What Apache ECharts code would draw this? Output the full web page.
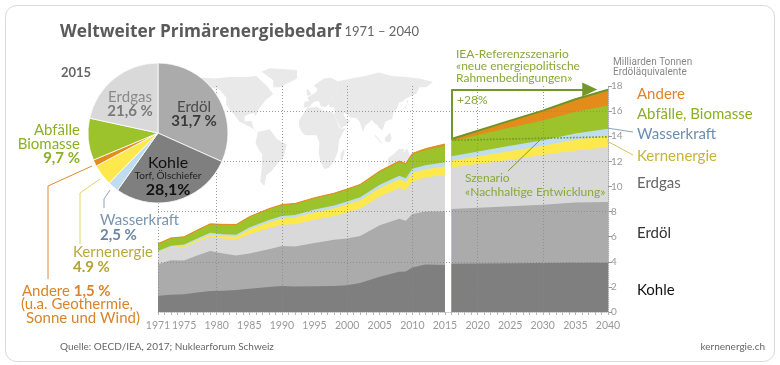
<!DOCTYPE html>
<html><head><meta charset="utf-8">
<script src="https://cdn.jsdelivr.net/npm/echarts@6/dist/echarts.min.js"></script>
<style>html,body{margin:0;padding:0;background:#fff}#c{width:780px;height:365px}</style>
</head><body><div id="c"></div>
<script>
// ---------- DATA ----------
const histYears = [1971,1973,1975,1977,1979,1981,1983,1985,1988,1990,1992,1995,1998,2000,2002,2005,2008,2009,2010,2012,2015];
const kohleHist  = [1.30,1.38,1.42,1.55,1.68,1.70,1.75,1.85,2.00,2.07,2.03,2.05,2.08,2.13,2.30,2.80,3.20,3.22,3.55,3.78,3.75];
const erdoelHist = [2.50,2.74,2.68,2.95,3.17,2.95,2.75,2.80,3.00,3.18,3.19,3.45,3.67,3.72,3.75,4.10,4.22,4.05,4.25,4.22,4.27];
const erdgasHist = [0.92,1.00,1.05,1.10,1.15,1.20,1.25,1.55,1.70,1.70,1.76,1.85,1.90,2.10,2.20,2.30,2.45,2.42,2.60,2.72,2.90];
const kernHist   = [0.03,0.05,0.10,0.13,0.16,0.20,0.25,0.37,0.45,0.50,0.55,0.60,0.62,0.63,0.66,0.68,0.70,0.68,0.70,0.65,0.66];
const wasserHist = [0.10,0.11,0.12,0.13,0.15,0.15,0.16,0.17,0.18,0.19,0.19,0.21,0.22,0.23,0.23,0.26,0.28,0.28,0.30,0.32,0.34];
const bioHist    = [0.57,0.60,0.60,0.64,0.68,0.75,0.78,0.82,0.86,0.88,0.88,0.90,0.92,0.94,0.97,1.03,1.10,1.10,1.15,1.22,1.33];
const andereHist = [0.02,0.02,0.02,0.02,0.03,0.03,0.03,0.03,0.04,0.04,0.04,0.04,0.05,0.05,0.05,0.06,0.07,0.07,0.08,0.10,0.13];

const projYears  = [2016,2025,2030,2035,2040];
const kohleProj  = [3.85,3.88,3.90,3.92,3.93];
const erdoelProj = [4.35,4.55,4.65,4.80,4.84];
const erdgasProj = [3.30,3.70,3.95,4.15,4.35];
const kernProj   = [0.55,0.70,0.75,0.85,0.93];
const wasserProj = [0.35,0.41,0.43,0.50,0.55];
const bioProj    = [1.20,1.45,1.57,1.72,1.85];
const andereProj = [0.18,0.55,0.79,1.00,1.25];

const sdsLine = [[2016,13.68],[2040,13.95]];   // Szenario «Nachhaltige Entwicklung»
const arrowLevel = 17.73;

const pieNames  = ['Erdöl','Kohle','Wasserkraft','Kernenergie','Andere','Abfälle, Biomasse','Erdgas'];
const pieShares = [31.7, 28.1, 2.5, 4.9, 1.5, 9.7, 21.6];

const xLabelYears = [1971,1975,1980,1985,1990,1995,2000,2005,2010,2015,2020,2025,2030,2035,2040];
const xGridYears  = [1971,1980,1990,2000,2010,2020,2030];

// ---------- STYLE ----------
const C = {kohle:'#7f7f7f', erdoel:'#ababab', erdgas:'#d9d9d9', kern:'#fde84e', wasser:'#c0dcf1', bio:'#9cc22c', andere:'#e38c1c'};
const pieColors = [C.erdoel, C.kohle, C.wasser, C.kern, C.andere, C.bio, C.erdgas];
const F = 'Lato, "Noto Sans", Arial, sans-serif';

const layers = [
  ['Kohle', kohleHist, kohleProj, C.kohle],
  ['Erdöl', erdoelHist, erdoelProj, C.erdoel],
  ['Erdgas', erdgasHist, erdgasProj, C.erdgas],
  ['Kernenergie', kernHist, kernProj, C.kern],
  ['Wasserkraft', wasserHist, wasserProj, C.wasser],
  ['Abfälle, Biomasse', bioHist, bioProj, C.bio],
  ['Andere', andereHist, andereProj, C.andere]
];

// cumulative table (layer tops), built from the arrays above
function cumulate(idx) {
  const n = layers[0][idx].length;
  const acc = new Array(n).fill(0);
  return layers.map(l => l[idx].map((v,i) => (acc[i] = +(acc[i] + v).toFixed(4))));
}
const histCum = cumulate(1);
const projCum = cumulate(2);
const projTop0 = projCum[layers.length-1][0];

const series = [];
// draw from the top layer down, each area filled from 0 to its cumulative top
for (let k = layers.length - 1; k >= 0; k--) {
  const l = layers[k];
  const isTop = k === layers.length - 1;
  series.push({
    type:'line', name:l[0], xAxisIndex:0, yAxisIndex:0,
    data: histYears.map((y,i)=>[y, histCum[k][i]]),
    symbol:'none', silent:true, z:2,
    lineStyle: isTop ? {width:1, color:C.andere} : {width:0},
    areaStyle:{color:l[3], opacity:1, origin:'start'}
  });
  const ps = {
    type:'line', name:l[0]+' Prognose', xAxisIndex:0, yAxisIndex:0,
    data: projYears.map((y,i)=>[y, projCum[k][i]]),
    symbol:'none', silent:true, z:2,
    lineStyle: isTop ? {width:2, color:'#6f9324'} : {width:0},
    areaStyle:{color:l[3], opacity:1, origin:'start'}
  };
  if (k === 0) {
    ps.markLine = {
      silent:true, animation:false, symbol:['none','none'], label:{show:false}, z:4,
      data:[
        [{coord:[projYears[0], projTop0], lineStyle:{color:'#73972a', width:2, type:'solid'}},
         {coord:[projYears[0], arrowLevel], lineStyle:{color:'#73972a', width:2, type:'solid'}}],
        [{coord:[projYears[0], arrowLevel], lineStyle:{color:'#73972a', width:2, type:'solid'}},
         {coord:[2037.2, arrowLevel], symbol:'triangle', symbolSize:[14,15], lineStyle:{color:'#73972a', width:2, type:'solid'}}],
        [{coord:sdsLine[0], lineStyle:{color:'#6f9a22', width:1.6, type:'dotted'}},
         {coord:sdsLine[1], lineStyle:{color:'#6f9a22', width:1.6, type:'dotted'}}]
      ]
    };
  }
  series.push(ps);
}

series.push({
  type:'pie', center:[158,133], radius:70, startAngle:90, clockwise:true, silent:true, z:5,
  label:{show:false}, labelLine:{show:false},
  itemStyle:{borderColor:'#ffffff', borderWidth:0.8},
  data: pieNames.map((n,i)=>({name:n, value:pieShares[i], itemStyle:{color:pieColors[i]}}))
});

// ---------- GRAPHIC ----------
function T(x, y, text, size, color, st) {
  return {type:'text', x:x, y:y, z:100, silent:true,
    style:Object.assign({text:text, fontFamily:F, fontSize:size, fill:color, verticalAlign:'middle', align:'left'}, st||{})};
}
function PL(points, color) {
  return {type:'polyline', z:100, silent:true, shape:{points:points}, style:{stroke:color, lineWidth:1, fill:null}};
}
// decorative world map silhouette (lon/lat outlines)
const mapShapes = [
  [[-168,66],[-160,71],[-140,70],[-120,72],[-95,72],[-80,73],[-65,62],[-55,52],[-66,45],[-76,35],[-81,26],[-83,30],[-90,29],[-97,26],[-97,20],[-87,21],[-83,10],[-78,8],[-85,12],[-92,15],[-105,20],[-112,28],[-118,33],[-124,40],[-124,48],[-135,58],[-150,60],[-165,60]],
  [[-55,60],[-45,60],[-20,70],[-20,80],[-60,82],[-72,78],[-55,68]],
  [[-78,8],[-60,11],[-50,0],[-35,-7],[-40,-22],[-48,-28],[-58,-38],[-65,-42],[-68,-55],[-74,-50],[-72,-35],[-71,-18],[-76,-13],[-81,-5],[-79,2]],
  [[-10,36],[-9,43],[-2,44],[-5,48],[2,51],[8,54],[10,58],[5,62],[12,66],[20,70],[30,71],[40,67],[40,55],[30,46],[28,41],[22,37],[15,38],[12,44],[5,43],[-2,37]],
  [[-5,50],[1,51],[-2,56],[-5,58],[-6,55]],
  [[-17,15],[-17,21],[-10,30],[-5,36],[10,37],[20,32],[32,31],[35,28],[43,12],[51,12],[42,-1],[40,-15],[35,-25],[27,-34],[20,-35],[15,-27],[12,-17],[13,-5],[9,4],[-8,4],[-13,8]],
  [[44,-25],[47,-25],[50,-15],[49,-12],[44,-17]],
  [[27,41],[30,46],[40,55],[40,67],[60,70],[80,73],[100,77],[120,73],[140,72],[160,70],[180,66],[170,60],[160,60],[155,52],[140,47],[135,43],[130,42],[127,35],[122,31],[120,23],[110,20],[106,10],[100,13],[98,16],[94,18],[90,22],[80,15],[77,8],[72,20],[67,24],[57,25],[56,27],[50,30],[48,29],[52,23],[58,21],[53,16],[44,12],[43,15],[39,21],[35,28],[35,36],[28,37]],
  [[130,31],[135,34],[140,36],[142,40],[141,45],[144,44],[140,38],[136,35],[131,33]],
  [[95,5],[106,-6],[103,-5],[95,3]],
  [[109,1],[117,7],[119,0],[116,-4],[110,-3]],
  [[114,-22],[122,-18],[130,-12],[137,-12],[137,-16],[142,-11],[146,-19],[153,-25],[151,-34],[146,-39],[140,-38],[135,-35],[129,-32],[116,-35],[114,-30]]
];
const mapGraphics = mapShapes.map(poly => ({
  type:'polygon', z:-1, silent:true,
  shape:{points: poly.map(p => [195 + (p[0]+170)*0.68, 70 + (80-p[1])*0.86])},
  style:{fill:'#e9e9e9'}
}));

const green = '#89a83a', greenL = '#8bb023';
const graphics = [
  {type:'rect', z:-2, silent:true, shape:{x:5.5, y:5.5, width:769, height:356, r:11}, style:{fill:'#fff', stroke:'#dadada', lineWidth:1}},
  ...mapGraphics,
  {type:'text', x:60, y:32, z:100, silent:true, style:{text:'{a|Weltweiter Primärenergiebedarf}{b| 1971 – 2040}', verticalAlign:'middle',
    rich:{a:{fontFamily:'"Open Sans", Lato, sans-serif', fontSize:17.3, fontWeight:'bold', fill:'#5a5a5a'}, b:{fontFamily:F, fontSize:13, fill:'#666'}}}},
  T(61, 73, '2015', 13, '#666', {fontWeight:'bold'}),
  // pie labels
  T(130, 97, 'Erdgas', 15, '#8a8a8a', {align:'center'}),
  T(130, 111, '21,6 %', 15, '#7a7a7a', {align:'center', fontWeight:'bold'}),
  T(194, 107, 'Erdöl', 15, '#4a4a4a', {align:'center'}),
  T(194, 121, '31,7 %', 15, '#3a3a3a', {align:'center', fontWeight:'bold'}),
  T(168, 163, 'Kohle', 16, '#111', {align:'center'}),
  T(168, 176, 'Torf, Ölschiefer', 10, '#222', {align:'center'}),
  T(168, 190, '28,1%', 16, '#111', {align:'center', fontWeight:'bold'}),
  T(80, 130, 'Abfälle', 15, greenL, {align:'right'}),
  T(80, 144, 'Biomasse', 15, greenL, {align:'right'}),
  T(80, 158, '9,7 %', 15, greenL, {align:'right', fontWeight:'bold'}),
  T(100, 220, 'Wasserkraft', 15, '#7b94af'),
  T(100, 235, '2,5 %', 15, '#6a86a4', {fontWeight:'bold'}),
  T(73, 252, 'Kernenergie', 15, '#b9aa3a'),
  T(73, 267, '4.9 %', 15, '#b3a334', {fontWeight:'bold'}),
  {type:'text', x:22, y:291, z:100, silent:true, style:{text:'{a|Andere }{b|1,5 %}', verticalAlign:'middle',
    rich:{a:{fontFamily:F, fontSize:15, fill:'#d8842c'}, b:{fontFamily:F, fontSize:15, fontWeight:'bold', fill:'#d8842c'}}}},
  T(21, 304, '(u.a. Geothermie,', 15, '#d8842c'),
  T(26, 318, 'Sonne und Wind)', 15, '#d8842c'),
  PL([[92,166],[48,186],[48,279]], '#de8b34'),
  PL([[100,179],[80,193],[80,244]], '#e4d266'),
  PL([[110,190],[104,199],[104,208]], '#8ea3b8'),
  // right labels
  T(637, 94, 'Andere', 15, '#e0842a'),
  T(637, 114, 'Abfälle, Biomasse', 15, greenL),
  T(637, 134, 'Wasserkraft', 15, '#6e8eb0'),
  T(637, 156, 'Kernenergie', 15, '#c8b43a'),
  T(637, 183, 'Erdgas', 15, '#666'),
  T(637, 233, 'Erdöl', 15, '#333'),
  T(637, 290, 'Kohle', 15, '#111'),
  PL([[607,128],[633,132]], '#8ea3b8'),
  PL([[607,141],[633,155]], '#d6c660'),
  T(613, 62, 'Milliarden Tonnen', 10, '#888', {fontFamily:'"Liberation Sans Narrow", Roboto, sans-serif'}),
  T(613, 72, 'Erdöläquivalente', 10, '#888', {fontFamily:'"Liberation Sans Narrow", Roboto, sans-serif'}),
  // annotations
  T(456, 54, 'IEA-Referenzszenario', 12, green),
  T(456, 66, '«neue energiepolitische', 12, green),
  T(456, 78, 'Rahmenbedingungen»', 12, green),
  T(457, 100, '+28%', 12, green),
  T(465, 178, 'Szenario', 12, green),
  T(465, 192, '«Nachhaltige Entwicklung»', 12, green),
  PL([[508,171],[540,140]], '#7a9a30'),
  // footer
  T(60, 347, 'Quelle: OECD/IEA, 2017; Nuklearforum Schweiz', 10, '#666'),
  T(765, 347, 'kernenergie.ch', 10, '#666', {align:'right'})
];

const yearTicks = [];
for (let y = 1971; y <= 2040; y++) yearTicks.push(y);

const gridLineStyle = {color:'#8a8a8a', type:[1,2], width:1, opacity:0.85};

const option = {
  animation:false,
  backgroundColor:'#fff',
  grid:{left:158, right:172, top:86, bottom:53, containLabel:false},
  xAxis:[
    {type:'value', min:1971, max:2040, position:'bottom', z:3,
     axisLine:{show:true, lineStyle:{color:'#c8c8c8', type:'dotted', width:1}},
     axisTick:{show:true, length:3, customValues:yearTicks, lineStyle:{color:'#b5b5b5'}},
     axisLabel:{show:true, customValues:xLabelYears, color:'#999', fontFamily:F, fontSize:10.5, margin:8, formatter:v=>String(v)},
     splitLine:{show:false}},
    {type:'value', min:1971, max:2040, position:'bottom', z:3,
     axisLine:{show:false}, axisLabel:{show:false},
     axisTick:{show:false, customValues:xGridYears},
     splitLine:{show:true, lineStyle:gridLineStyle}}
  ],
  yAxis:[
    {type:'value', min:0, max:18, interval:2, position:'right', z:3,
     axisLine:{show:true, lineStyle:{color:'#aaa', type:'dotted'}},
     axisTick:{show:true, length:4, inside:false, lineStyle:{color:'#999'}},
     axisLabel:{color:'#999', fontFamily:F, fontSize:10, margin:3},
     splitLine:{show:false}},
    {type:'value', min:0, max:18, interval:4, position:'right', z:3,
     axisLine:{show:false}, axisTick:{show:false}, axisLabel:{show:false},
     splitLine:{show:true, showMinLine:false, showMaxLine:false, lineStyle:gridLineStyle}}
  ],
  series: series,
  graphic: graphics
};

const chart = echarts.init(document.getElementById('c'));
chart.setOption(option);
</script>
</body></html>
